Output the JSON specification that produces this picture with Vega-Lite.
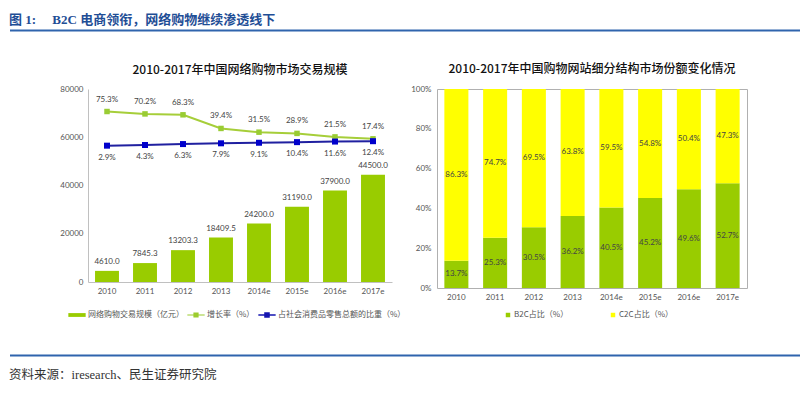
{
  "$schema": "https://vega.github.io/schema/vega-lite/v6.json",
  "background": "white",
  "padding": {"left": 8, "top": 13, "right": 0, "bottom": 0},
  "config": {
    "font": "Lato",
    "view": {"stroke": null},
    "axis": {"labelFont": "Lato", "labelFontSize": 8, "labelColor": "#555555", "ticks": false, "grid": false, "title": null, "domainColor": "#c0c0c0", "labelOverlap": false},
    "legend": {"labelFont": "Noto Sans CJK SC", "labelFontSize": 8, "labelColor": "#555555", "title": null},
    "title": {"font": "Noto Sans CJK SC", "fontSize": 12, "fontWeight": 500, "color": "#111111"}
  },
  "datasets": {
    "scale": [
      {"year": "2010", "gmv": 4610.0, "growth": 0.753, "share": 0.029},
      {"year": "2011", "gmv": 7845.3, "growth": 0.702, "share": 0.043},
      {"year": "2012", "gmv": 13203.3, "growth": 0.683, "share": 0.063},
      {"year": "2013", "gmv": 18409.5, "growth": 0.394, "share": 0.079},
      {"year": "2014e", "gmv": 24200.0, "growth": 0.315, "share": 0.091},
      {"year": "2015e", "gmv": 31190.0, "growth": 0.289, "share": 0.104},
      {"year": "2016e", "gmv": 37900.0, "growth": 0.215, "share": 0.116},
      {"year": "2017e", "gmv": 44500.0, "growth": 0.174, "share": 0.124}
    ],
    "share": [
      {"year": "2010", "type": "B2C占比（%）", "pct": 0.137},
      {"year": "2011", "type": "B2C占比（%）", "pct": 0.253},
      {"year": "2012", "type": "B2C占比（%）", "pct": 0.305},
      {"year": "2013", "type": "B2C占比（%）", "pct": 0.362},
      {"year": "2014e", "type": "B2C占比（%）", "pct": 0.405},
      {"year": "2015e", "type": "B2C占比（%）", "pct": 0.452},
      {"year": "2016e", "type": "B2C占比（%）", "pct": 0.496},
      {"year": "2017e", "type": "B2C占比（%）", "pct": 0.527},
      {"year": "2010", "type": "C2C占比（%）", "pct": 0.863},
      {"year": "2011", "type": "C2C占比（%）", "pct": 0.747},
      {"year": "2012", "type": "C2C占比（%）", "pct": 0.695},
      {"year": "2013", "type": "C2C占比（%）", "pct": 0.638},
      {"year": "2014e", "type": "C2C占比（%）", "pct": 0.595},
      {"year": "2015e", "type": "C2C占比（%）", "pct": 0.548},
      {"year": "2016e", "type": "C2C占比（%）", "pct": 0.504},
      {"year": "2017e", "type": "C2C占比（%）", "pct": 0.473}
    ]
  },
  "spacing": 30,
  "columns": 1,
  "align": "none",
  "concat": [
    {
      "width": 714,
      "height": 1,
      "title": {"text": "图 1:\u3000 B2C 电商领衔，网络购物继续渗透线下", "anchor": "start", "font": "Liberation Serif, Noto Sans CJK SC", "fontSize": 13, "fontWeight": "bold", "color": "#1f4e96", "offset": 3},
      "data": {"values": [{"line": "header"}]},
      "mark": {"type": "rule", "color": "#2f64ad", "strokeWidth": 2, "clip": false},
      "encoding": {
        "x": {"datum": -78, "type": "quantitative", "scale": {"domain": [0, 714], "nice": false, "zero": false}, "axis": null},
        "x2": {"datum": 714}
      }
    },
    {
      "spacing": 0,
      "resolve": {"scale": {"color": "independent", "shape": "independent"}, "legend": {"color": "independent", "shape": "independent"}},
      "hconcat": [
        {
          "width": 304,
          "height": 193,
          "title": {"text": "2010-2017年中国网络购物市场交易规模", "offset": 8},
          "data": {"name": "scale"},
          "resolve": {"scale": {"y": "independent"}, "axis": {"y": "independent"}},
          "layer": [
            {
              "layer": [
                {
                  "mark": {"type": "bar", "color": "#99cc00"},
                  "encoding": {
                    "x": {"field": "year", "type": "nominal", "sort": null, "scale": {"paddingInner": 0.37, "paddingOuter": 0.185}, "axis": {"labelAngle": 0, "labelPadding": 5}},
                    "y": {"field": "gmv", "type": "quantitative", "scale": {"domain": [0, 80000], "nice": false}, "axis": {"values": [0, 20000, 40000, 60000, 80000], "format": "d", "labelPadding": 5, "title": "亿元", "titleFontSize": 8, "titleColor": "transparent", "titlePadding": 43}}
                  }
                },
                {
                  "mark": {"type": "text", "dy": -9, "fontSize": 8, "color": "#444444", "font": "Lato"},
                  "encoding": {
                    "x": {"field": "year", "type": "nominal", "sort": null},
                    "y": {"field": "gmv", "type": "quantitative", "scale": {"domain": [0, 80000], "nice": false}},
                    "text": {"field": "gmv", "type": "quantitative", "format": ".1f"}
                  }
                },
                {
                  "data": {"values": [
                    {"series": "网络购物交易规模（亿元）", "v": null},
                    {"series": "增长率（%）", "v": null},
                    {"series": "占社会消费品零售总额的比重（%）", "v": null}
                  ]},
                  "mark": {"type": "point", "filled": true, "opacity": 1},
                  "encoding": {
                    "y": {"field": "v", "type": "quantitative", "scale": {"domain": [0, 80000], "nice": false}},
                    "color": {"field": "series", "type": "nominal",
                      "scale": {"domain": ["网络购物交易规模（亿元）", "增长率（%）", "占社会消费品零售总额的比重（%）"], "range": ["#99cc00", "#9ccc2e", "#1515b0"]},
                      "legend": {"orient": "none", "legendX": -24, "legendY": 213, "padding": 4, "direction": "horizontal", "symbolSize": 300, "columnPadding": 3, "labelOffset": 2, "symbolStrokeWidth": 0}},
                    "shape": {"field": "series", "type": "nominal",
                      "scale": {"domain": ["网络购物交易规模（亿元）", "增长率（%）", "占社会消费品零售总额的比重（%）"], "range": ["M-1,-0.22H1V0.22H-1Z", "M-1,-0.07H1V0.07H-1Z M-0.3,-0.3H0.3V0.3H-0.3Z", "M-1,-0.08H1V0.08H-1Z M-0.32,-0.32H0.32V0.32H-0.32Z"]}}
                  }
                }
              ]
            },
            {
              "encoding": {
                "x": {"field": "year", "type": "nominal", "sort": null}
              },
              "layer": [
                {
                  "mark": {"type": "line", "color": "#a6ce39", "strokeWidth": 2},
                  "encoding": {"y": {"field": "growth", "type": "quantitative", "scale": {"domain": [-2.86, 1.23], "nice": false, "zero": false}, "axis": null}}
                },
                {
                  "mark": {"type": "point", "shape": "square", "filled": true, "color": "#99cc33", "size": 30, "opacity": 1},
                  "encoding": {"y": {"field": "growth", "type": "quantitative"}}
                },
                {
                  "mark": {"type": "text", "dy": -12, "fontSize": 8, "color": "#444444", "font": "Lato"},
                  "encoding": {"y": {"field": "growth", "type": "quantitative"}, "text": {"field": "growth", "type": "quantitative", "format": ".1%"}}
                },
                {
                  "mark": {"type": "line", "color": "#2020a0", "strokeWidth": 2},
                  "encoding": {"y": {"field": "share", "type": "quantitative"}}
                },
                {
                  "mark": {"type": "point", "shape": "square", "filled": true, "color": "#0000cc", "size": 36, "opacity": 1},
                  "encoding": {"y": {"field": "share", "type": "quantitative"}}
                },
                {
                  "mark": {"type": "text", "dy": 12, "fontSize": 8, "color": "#444444", "font": "Lato"},
                  "encoding": {"y": {"field": "share", "type": "quantitative"}, "text": {"field": "share", "type": "quantitative", "format": ".1%"}}
                }
              ]
            }
          ]
        },
        {
          "width": 310,
          "height": 199,
          "view": {"stroke": "#b0b0b0"},
          "title": {"text": "2010-2017年中国购物网站细分结构市场份额变化情况", "offset": 9},
          "data": {"name": "share"},
          "layer": [
            {
              "mark": "bar",
              "encoding": {
                "x": {"field": "year", "type": "nominal", "sort": ["2010", "2011", "2012", "2013", "2014e", "2015e", "2016e", "2017e"], "scale": {"paddingInner": 0.38, "paddingOuter": 0.19}, "axis": {"labelAngle": 0, "domain": false, "labelPadding": 5}},
                "y": {"field": "pct", "type": "quantitative", "stack": "zero", "scale": {"domain": [0, 1], "nice": false}, "axis": {"values": [0, 0.2, 0.4, 0.6, 0.8, 1], "format": ".0%", "domain": false, "labelPadding": 6, "labelOverlap": false}},
                "order": {"field": "type", "sort": "ascending"},
                "color": {"field": "type", "type": "nominal", "scale": {"domain": ["B2C占比（%）", "C2C占比（%）"], "range": ["#99cc00", "#ffff00"]},
                  "legend": {"orient": "none", "legendX": 63, "legendY": 218, "padding": 4, "direction": "horizontal", "symbolType": "square", "symbolSize": 20, "columnPadding": 40, "labelOffset": 2, "symbolStrokeWidth": 0}}
              }
            },
            {
              "transform": [
                {"stack": "pct", "groupby": ["year"], "sort": [{"field": "type", "order": "ascending"}], "as": ["p0", "p1"]},
                {"fold": ["p0", "p1"], "as": ["edge", "pos"]},
                {"aggregate": [{"op": "mean", "field": "pos", "as": "mid"}, {"op": "max", "field": "pct", "as": "pct"}], "groupby": ["year", "type"]}
              ],
              "mark": {"type": "text", "fontSize": 8, "color": "#444444", "font": "Lato"},
              "encoding": {
                "x": {"field": "year", "type": "nominal", "sort": ["2010", "2011", "2012", "2013", "2014e", "2015e", "2016e", "2017e"]},
                "y": {"field": "mid", "type": "quantitative", "scale": {"domain": [0, 1], "nice": false}, "axis": {"values": [0, 0.2, 0.4, 0.6, 0.8, 1], "format": ".0%", "domain": false, "labelPadding": 6, "labelOverlap": false}},
                "text": {"field": "pct", "type": "quantitative", "format": ".1%"}
              }
            }
          ]
        }
      ]
    },
    {
      "width": 714,
      "height": 1,
      "title": {"text": "资料来源：iresearch、民生证券研究院", "orient": "bottom", "anchor": "start", "font": "Liberation Serif, Noto Sans CJK SC", "fontSize": 12.5, "fontWeight": "normal", "color": "#333333", "offset": 12},
      "data": {"values": [{"line": "footer"}]},
      "mark": {"type": "rule", "color": "#2f64ad", "strokeWidth": 2, "clip": false},
      "encoding": {
        "x": {"datum": -78, "type": "quantitative", "scale": {"domain": [0, 714], "nice": false, "zero": false}, "axis": null},
        "x2": {"datum": 714}
      }
    }
  ]
}
